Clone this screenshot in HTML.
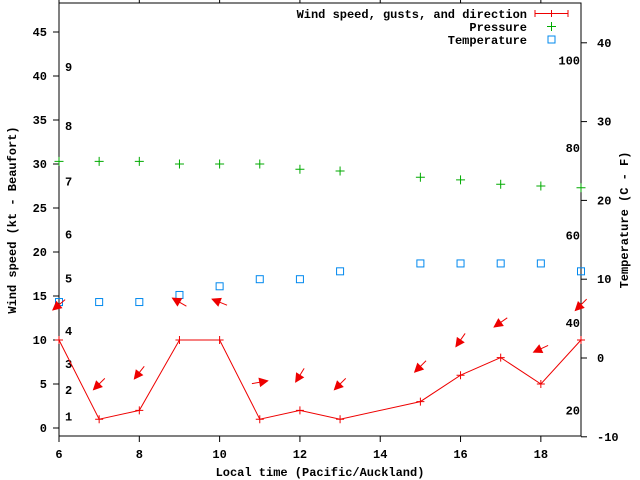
<!DOCTYPE html>
<html><head><meta charset="utf-8"><style>
body{margin:0;background:#fff}
svg{display:block;font-family:"Liberation Mono",monospace;font-weight:bold;font-size:12px}
</style></head><body>
<svg id="chart" width="640" height="480" viewBox="0 0 640 480" xmlns="http://www.w3.org/2000/svg">
<rect width="640" height="480" fill="#fff"/>
<g id="axes"></g>
<g id="marks"></g>
<text x="16" y="220" transform="rotate(-90 16 220)" text-anchor="middle">Wind speed (kt - Beaufort)</text>
<text x="628" y="220" transform="rotate(-90 628 220)" text-anchor="middle">Temperature (C - F)</text>
<text x="320" y="476" text-anchor="middle">Local time (Pacific/Auckland)</text>
<g>
<text x="527" y="18" text-anchor="end">Wind speed, gusts, and direction</text>
<path d="M535 13.5H568M535 10v7M568 10v7M551.5 10v7" stroke="#e00" fill="none"/>
<text x="527" y="31" text-anchor="end">Pressure</text>
<path d="M547 26.5h9M551.5 22v9" stroke="#0a0"/>
<text x="527" y="44" text-anchor="end">Temperature</text>
<rect x="548" y="36" width="7" height="7" fill="none" stroke="#08e"/>
</g>
</svg>
<script>
const hours=[6,7,8,9,10,11,12,13,15,16,17,18,19];
const wind=[10,1,2,10,10,1,2,1,3,6,8,5,10];
const gust=[14,5,6.3,14.3,14.3,5.2,6,5,7,10,12,9,14];
const arrowDir=[230,225,218,300,292,80,212,225,225,215,235,245,225];
const pressure=[30.3,30.3,30.3,30.0,30.0,30.0,29.4,29.2,28.5,28.2,27.7,27.5,27.3];
const tempC=[7.1,7.1,7.1,8.0,9.1,10,10,11,12,12,12,12,11];
const xTicks=[6,8,10,12,14,16,18];
const yTicks=[0,5,10,15,20,25,30,35,40,45];
const cTicks=[-10,0,10,20,30,40];
const fTicks=[20,40,60,80,100];
const bft=[1,2,3,4,5,6,7,8,9];
const bftY=[1.3,4.3,7.3,11,17,22,28,34.3,41];
const L=59,R=581,T=3,B=436;
const xs=h=>L+(h-6)*(R-L)/13;
const ys=v=>428-v*8.8;
const yc=c=>358-c*7.88;
const yf=f=>yc((f-32)*5/9);
const NS='http://www.w3.org/2000/svg';
const axes=document.getElementById('axes'),marks=document.getElementById('marks');
function mk(tag,attrs,parent,txt){const e=document.createElementNS(NS,tag);for(const k in attrs)e.setAttribute(k,attrs[k]);if(txt!==undefined)e.textContent=txt;parent.appendChild(e);return e;}
let e=mk('rect',{x:L,y:T,width:R-L,height:B-T,fill:'none',stroke:'#000'},axes);


xTicks.forEach(h=>{const x=xs(h);
e=mk('path',{d:`M${x} ${B}v6M${x} ${T}v-6`,stroke:'#000'},axes);


e=mk('text',{x:x,y:B+22,'text-anchor':'middle'},axes,h);

});
yTicks.forEach(v=>{const y=ys(v);
e=mk('path',{d:`M${L} ${y}h-6`,stroke:'#000'},axes);


e=mk('text',{x:47,y:y+4,'text-anchor':'end'},axes,v);

});
cTicks.forEach(v=>{const y=yc(v);
e=mk('path',{d:`M${R} ${y}h6`,stroke:'#000'},axes);


e=mk('text',{x:597,y:y+4},axes,v);

});
fTicks.forEach(v=>{
e=mk('text',{x:580,y:yf(v)+4,'text-anchor':'end'},axes,v);

});
bft.forEach((b,i)=>{
e=mk('text',{x:65,y:ys(bftY[i])+4},axes,b);

});
// pressure
hours.forEach((h,i)=>{const x=xs(h),y=ys(pressure[i]);
e=mk('path',{d:`M${x-4.5} ${y}h9M${x} ${y-4.5}v9`,stroke:'#0a0'},marks);

});
// temperature
hours.forEach((h,i)=>{const x=xs(h),y=yc(tempC[i]);
e=mk('rect',{x:x-3.5,y:y-3.5,width:7,height:7,fill:'none',stroke:'#08e'},marks);

});
// wind line
e=mk('polyline',{points:hours.map((h,i)=>xs(h)+','+ys(wind[i])).join(' '),fill:'none',stroke:'#e00'},marks);


hours.forEach((h,i)=>{const x=xs(h),y=ys(wind[i]);
e=mk('path',{d:`M${x-4} ${y}h8M${x} ${y-4}v8`,stroke:'#e00'},marks);

});
// arrows
hours.forEach((h,i)=>{const cx=xs(h),cy=ys(gust[i]);const a=arrowDir[i]*Math.PI/180;
const dx=Math.sin(a),dy=-Math.cos(a);const len=16;
const hx=cx+dx*len/2,hy=cy+dy*len/2,tx=cx-dx*len/2,ty=cy-dy*len/2;
const px=-dy,py=dx;const bx=hx-dx*8,by=hy-dy*8;
e=mk('g',{},marks);


mk('line',{x1:tx,y1:ty,x2:hx,y2:hy,stroke:'#e00'},e);
mk('polygon',{points:`${hx},${hy} ${bx+px*4},${by+py*4} ${bx-px*4},${by-py*4}`,fill:'#e00',stroke:'#e00'},e);});
</script>
</body></html>
